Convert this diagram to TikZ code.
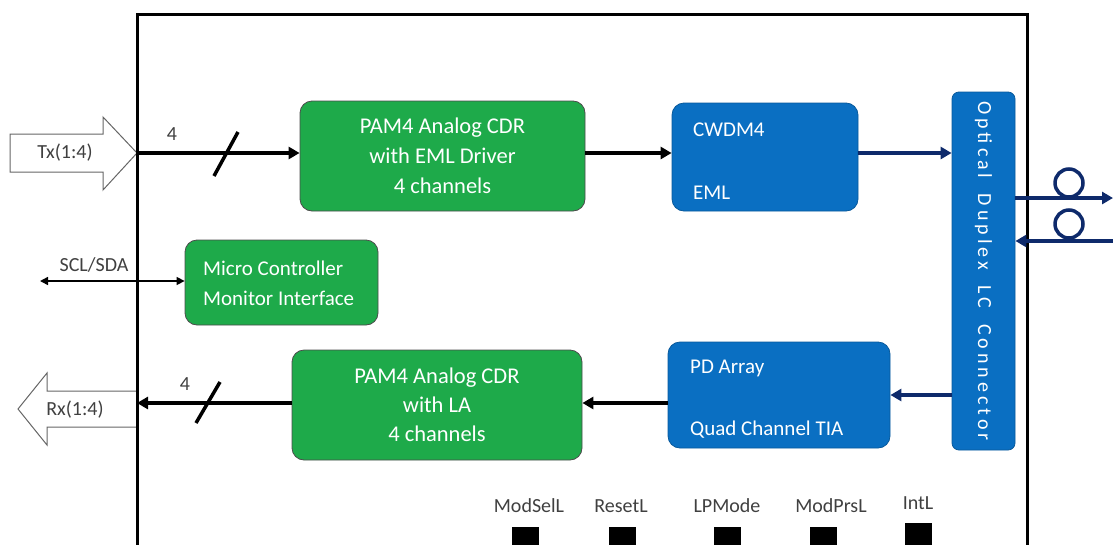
\documentclass[tikz,border=0pt]{standalone}
\usepackage{fontspec}
\setmainfont{Carlito}
\usetikzlibrary{arrows.meta}
\definecolor{grn}{HTML}{1EAA4A}
\definecolor{blu}{HTML}{0A6FC2}
\definecolor{navy}{HTML}{0E2A6B}
\definecolor{txt}{HTML}{404040}
\begin{document}
\begin{tikzpicture}[x=1pt,y=-1pt,
 gbox/.style={draw=black!70, fill=grn, rounded corners=12pt, line width=0.8pt, text=white, align=center, inner sep=0},
 bbox/.style={draw=blu!80!black, fill=blu, rounded corners=12pt, line width=0.8pt, inner sep=0},
 wtxt/.style={text=white, font=\fontsize{21}{24}\selectfont, anchor=west, inner sep=0},
 sig/.style={line width=3.5pt, -{Triangle[length=11pt,width=12pt]}},
 opt/.style={draw=navy, line width=4pt, -{Triangle[length=11pt,width=12pt]}},
 lbl/.style={font=\fontsize{20}{22}\selectfont, text=txt, inner sep=0},
 pin/.style={fill=black, minimum width=27pt, minimum height=24pt, inner sep=0, anchor=north},
 hollow/.style={draw=black!60, line width=1pt, fill=white},
 slash/.style={line width=3.5pt}]
\useasboundingbox (0,0) rectangle (1113,544);
% hollow interface arrows
\draw[hollow] (10,134) -- (103,134) -- (103,117) -- (137,153) -- (103,190) -- (103,172) -- (10,172) -- cycle;
\node[lbl] (txl) at (65,153) {Tx(1:4)};
\draw[hollow] (137,391) -- (47,391) -- (47,373) -- (18,409) -- (47,445) -- (47,427) -- (137,427) -- cycle;
\node[lbl] (rxl) at (75,410) {Rx(1:4)};
% module outline
\draw[line width=3pt] (137,548) -- (137,14) -- (1027,14) -- (1027,548);
\coordinate (txin) at (137,153);
\coordinate (rxout) at (137,403);
\coordinate (scl) at (40,281);
\coordinate (fout) at (1113,198);
\coordinate (fin) at (1113,241);
% blocks
\node[gbox, minimum width=285pt, minimum height=110pt, font=\fontsize{22.5}{30}\selectfont] (cdrtx) at (442.5,156) {PAM4 Analog CDR\\with EML Driver\\4 channels};
\node[bbox, minimum width=186pt, minimum height=108pt] (cwdm) at (765,157) {};
\node[wtxt] (cwdmt) at (693,130) {CWDM4};
\node[wtxt] (emlt) at (693,193) {EML};
\node[bbox, rounded corners=7pt, minimum width=63pt, minimum height=358pt] (lc) at (983.5,271) {};
\node[rotate=-90, text=white, inner sep=0, font=\fontsize{20}{22}\selectfont\addfontfeature{LetterSpace=20}] (lct) at (lc) {Optical\hspace{7pt} Duplex\hspace{7pt} LC\hspace{7pt} Connector};
\node[gbox, minimum width=193pt, minimum height=85pt] (mcu) at (281.5,282.5) {};
\node[wtxt] (mcu1) at (203,268) {Micro Controller};
\node[wtxt] (mcu2) at (203,298) {Monitor Interface};
\node[bbox, minimum width=222pt, minimum height=106pt] (pd) at (779,395) {};
\node[wtxt] (pd1) at (690,368) {PD Array};
\node[wtxt] (pd2) at (690,430) {Quad Channel TIA};
\node[gbox, minimum width=290pt, minimum height=110pt, font=\fontsize{22.5}{29}\selectfont] (cdrrx) at (437,405) {PAM4 Analog CDR\\with LA\\4 channels};
% connectors
\draw[sig] (txin) -- (txin -| cdrtx.west);
\draw[slash] (214,176) -- (238,132);
\node[lbl] (n4a) at (172,134) {4};
\draw[sig] (cdrtx.east |- txin) -- (cwdm.west |- txin);
\draw[opt] (cwdm.east |- txin) -- (lc.west |- txin);
\draw[opt] (lc.east |- fout) -- (fout);
\draw[opt] (fin) -- (lc.east |- fin);
\draw[navy, line width=3.5pt] (1069,183) circle (14);
\draw[navy, line width=3.5pt] (1069,224) circle (14);
\draw[opt] (lc.west |- pd) -- (pd.east);
\draw[sig] (pd.west |- rxout) -- (cdrrx.east |- rxout);
\draw[sig] (cdrrx.west |- rxout) -- (rxout);
\draw[slash] (196,423) -- (220,382);
\node[lbl] (n4b) at (185,384) {4};
\draw[line width=1.5pt, {Triangle[length=8pt,width=8pt]}-{Triangle[length=8pt,width=8pt]}] (scl) -- (mcu.west |- scl);
\node[lbl] (scll) at (94,265) {SCL/SDA};
% pins
\node[pin] (p1) at (525.5,527) {};
\node[pin] (p2) at (622.5,527) {};
\node[pin] (p3) at (727,527) {};
\node[pin] (p4) at (823.5,527) {};
\node[pin] (p5) at (918.5,523) {};
\node[lbl] (l1) at (529,506) {ModSelL};
\node[lbl] (l2) at (621,506) {ResetL};
\node[lbl] (l3) at (727,506) {LPMode};
\node[lbl] (l4) at (831,506) {ModPrsL};
\node[lbl] (l5) at (918,503) {IntL};
\end{tikzpicture}
\end{document}
